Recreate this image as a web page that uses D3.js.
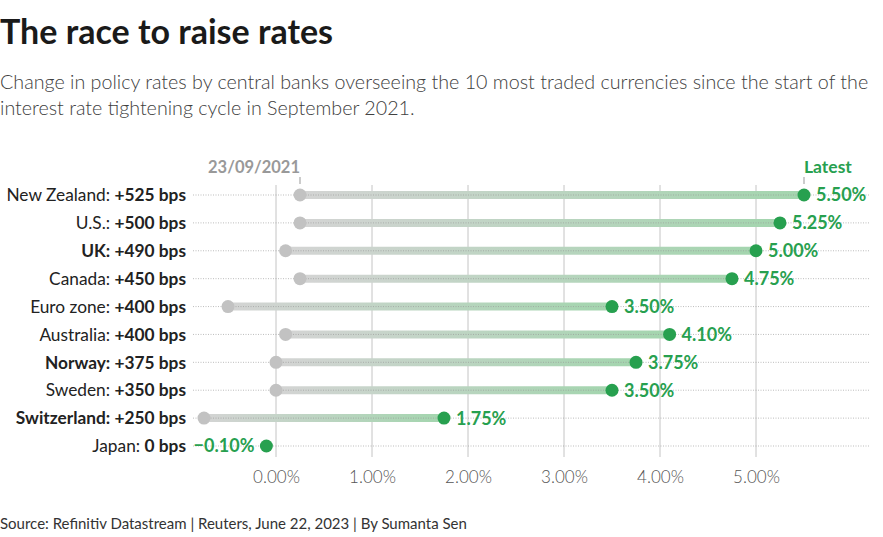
<!DOCTYPE html>
<html>
<head>
<meta charset="utf-8">
<script src="https://cdn.jsdelivr.net/npm/d3@7"></script>
<style>
  body { margin: 0; background: #fff; }
  svg { font-family: "Source Sans Pro", Lato, "Noto Sans", sans-serif; }
</style>
</head>
<body>
<svg width="883" height="537"></svg>
<script>
// data
const countries = ["New Zealand", "U.S.", "UK", "Canada", "Euro zone", "Australia", "Norway", "Sweden", "Switzerland", "Japan"];
const startRates = [0.25, 0.25, 0.10, 0.25, -0.50, 0.10, 0.00, 0.00, -0.75, -0.10];
const latestRates = [5.50, 5.25, 5.00, 4.75, 3.50, 4.10, 3.75, 3.50, 1.75, -0.10];
const changeBps = [525, 500, 490, 450, 400, 400, 375, 350, 250, 0];
const boldCountries = ["UK", "Norway", "Switzerland"];
const tickValues = [0, 1, 2, 3, 4, 5];

const svg = d3.select("svg");
const green = "#27a04f";

const rows = countries.map((c, i) => ({
  name: c, start: startRates[i], end: latestRates[i], bps: changeBps[i]
}));

const x = d3.scaleLinear().domain([0, 5]).range([276, 756]);
const y = d3.scalePoint().domain(countries).range([195, 446]);

// title etc
svg.append("text").attr("x", 0).attr("y", 44)
  .style("font-size", "34px").style("font-weight", 700).style("fill", "#1a1a1a")
  .text("The race to raise rates");
const sub = svg.append("text").style("font-size", "19.7px").style("fill", "#404040").style("font-weight", 300);
sub.append("tspan").attr("x", 0).attr("y", 89)
  .text("Change in policy rates by central banks overseeing the 10 most traded currencies since the start of the");
sub.append("tspan").attr("x", 0).attr("y", 115)
  .text("interest rate tightening cycle in September 2021.");

svg.append("text").attr("x", 0).attr("y", 529)
  .style("font-size", "15px").style("fill", "#333")
  .text("Source: Refinitiv Datastream | Reuters, June 22, 2023 | By Sumanta Sen");

// gridlines
svg.append("g").selectAll("line").data(tickValues).enter().append("line")
  .attr("x1", d => x(d)).attr("x2", d => x(d))
  .attr("y1", 185).attr("y2", 457)
  .style("stroke", "#c4c4c4").style("stroke-width", 1);

// x axis
const xAxis = svg.append("g").attr("transform", "translate(0,468)")
  .call(d3.axisBottom(x).tickValues(tickValues).tickSize(0).tickFormat(d => d3.format(".2f")(d) + "%"));
xAxis.select(".domain").remove();
xAxis.selectAll("text").style("font-size", "17px").style("fill", "#555").style("font-weight", 300)
  .style("font-family", "\"Source Sans Pro\", Lato, \"Noto Sans\", sans-serif");

// gradients for bars
const defs = svg.append("defs");
rows.forEach((d, i) => {
  const g = defs.append("linearGradient").attr("id", "grad" + i)
    .attr("gradientUnits", "userSpaceOnUse")
    .attr("x1", x(d.start)).attr("x2", x(d.end)).attr("y1", 0).attr("y2", 0);
  g.append("stop").attr("offset", "0%").attr("stop-color", "#d4d4d4");
  g.append("stop").attr("offset", "100%").attr("stop-color", "#a3d5ae");
});

const row = svg.append("g").selectAll("g").data(rows).enter().append("g")
  .attr("transform", d => `translate(0,${y(d.name)})`);

row.append("line")
  .attr("x1", d => x(d.start)).attr("x2", d => x(d.end))
  .attr("stroke", (d, i) => `url(#grad${i})`)
  .attr("stroke-width", 8);

// dotted row guide
row.append("line").attr("x1", 193).attr("x2", 869)
  .style("stroke", "#999").style("stroke-width", 0.8)
  .style("stroke-dasharray", "1,1.5").style("opacity", 0.8);

row.filter(d => d.start !== d.end).append("circle")
  .attr("cx", d => x(d.start)).attr("r", 6.5).style("fill", "#c2c2c2");
row.append("circle")
  .attr("cx", d => x(d.end)).attr("r", 6.5).style("fill", green);

// value labels
row.append("text")
  .attr("x", d => d.end < 0 ? x(d.end) - 12 : x(d.end) + 12)
  .attr("dy", "0.36em")
  .attr("text-anchor", d => d.end < 0 ? "end" : "start")
  .style("font-size", "18px").style("font-weight", 700).style("fill", green)
  .text(d => (d.end < 0 ? "\u2212" + d3.format(".2f")(-d.end) : d3.format(".2f")(d.end)) + "%");

// country labels
const lab = row.append("text").attr("x", 186).attr("dy", "0.36em")
  .attr("text-anchor", "end").style("font-size", "17.3px").style("fill", "#222");
lab.append("tspan")
  .style("font-weight", d => boldCountries.includes(d.name) ? 700 : 400)
  .text(d => d.name + ": ");
lab.append("tspan").style("font-weight", 700)
  .text(d => (d.bps > 0 ? "+" : "") + d.bps + " bps");

// annotations
const first = rows[0];
svg.append("line").attr("x1", x(first.start)).attr("x2", x(first.start))
  .attr("y1", 177).attr("y2", 184).style("stroke", "#999");
svg.append("text").attr("x", x(first.start)).attr("y", 173).attr("text-anchor", "end")
  .style("font-size", "16.5px").style("font-weight", 700).style("fill", "#999").text("23/09/2021");
svg.append("line").attr("x1", x(first.end)).attr("x2", x(first.end))
  .attr("y1", 177).attr("y2", 184).style("stroke", "#999");
svg.append("text").attr("x", x(first.end)).attr("y", 173)
  .style("font-size", "17.5px").style("font-weight", 700).style("fill", green).text("Latest");
</script>
</body>
</html>
